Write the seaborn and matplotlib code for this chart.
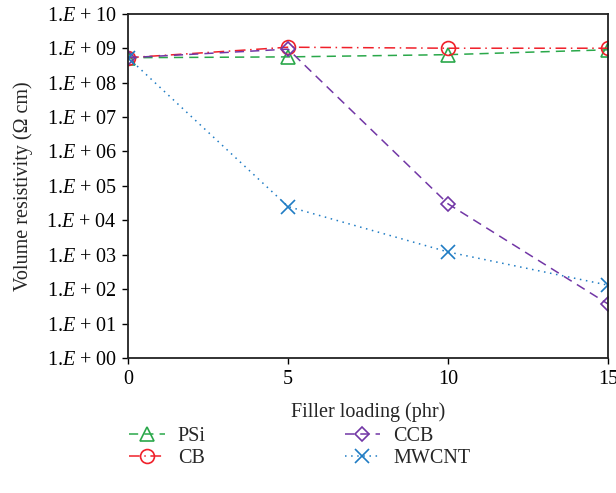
import numpy as np
import pandas as pd
import matplotlib
matplotlib.use("Agg")
import matplotlib.pyplot as plt
import seaborn as sns
from matplotlib.ticker import FuncFormatter, FixedLocator

loading = [0, 5, 10, 15]
psi = [5.3e8, 5.6e8, 6.5e8, 9.0e8]
cb = [5.3e8, 1.07e9, 1.0e9, 1.0e9]
ccb = [5.3e8, 9.4e8, 3.0e4, 37]
mwcnt = [5.3e8, 2.5e4, 1.2e3, 130]
series_names = ["PSi", "CB", "CCB", "MWCNT"]
decades = list(range(0, 11))

sns.set_style("ticks")
plt.rcParams["font.family"] = ["Liberation Serif", "DejaVu Serif"]
plt.rcParams["mathtext.fontset"] = "custom"
plt.rcParams["mathtext.rm"] = "Liberation Serif"
plt.rcParams["mathtext.it"] = "Liberation Serif:italic"

df = pd.DataFrame({
    "loading": loading * 4,
    "value": psi + cb + ccb + mwcnt,
    "series": sum([[n] * 4 for n in series_names], []),
})

styles = {
    "PSi": dict(color="#2aa84a", ls=(0, (6, 4)), marker="^", ms=10),
    "CB": dict(color="#f0202a", ls=(0, (7, 3, 1, 3)), marker="o", ms=10),
    "CCB": dict(color="#7237a6", ls=(0, (6, 4)), marker="D", ms=7.5),
    "MWCNT": dict(color="#1f7cc4", ls=(0, (1, 3)), marker="x", ms=10),
}

fig = plt.figure(figsize=(6.16, 4.93), dpi=100)
ax = fig.add_axes([0.208, 0.274, 0.779, 0.698])

for name in series_names:
    s = styles[name]
    sub = df[df["series"] == name]
    sns.lineplot(data=sub, x="loading", y="value", ax=ax, color=s["color"],
                 linestyle=s["ls"], linewidth=1.1, marker=s["marker"],
                 markersize=s["ms"], markerfacecolor="none",
                 markeredgecolor=s["color"], markeredgewidth=1.2,
                 label=name, legend=False)

ax.set_yscale("log")
ax.set_ylim(1, 1e10)
ax.set_xlim(0, 15)
ax.set_xticks([0, 5, 10, 15])
ax.yaxis.set_major_locator(FixedLocator([10.0 ** d for d in decades]))
ax.yaxis.set_minor_locator(FixedLocator([]))
ax.yaxis.set_major_formatter(FuncFormatter(
    lambda v, p: r"1.$\mathit{E}$ + %02d" % int(round(np.log10(v)))))
ax.tick_params(axis="both", direction="out", length=4, width=1,
               labelsize=14.5, colors="black")
ax.tick_params(axis="x", pad=5)
ax.tick_params(axis="y", pad=4)
for sp in ax.spines.values():
    sp.set_linewidth(1.3)
    sp.set_color("#222222")

ax.set_xlabel("Filler loading (phr)", fontsize=14.5, labelpad=9)
ax.set_ylabel("Volume resistivity (Ω cm)", fontsize=14.5, labelpad=10)

ax.legend(ncol=2, loc="upper left", bbox_to_anchor=(-0.035, -0.147),
          frameon=False, fontsize=14.5, handlelength=1.75, columnspacing=6.9,
          labelspacing=0.15, handletextpad=0.65)

fig.savefig("out.png", dpi=100)
